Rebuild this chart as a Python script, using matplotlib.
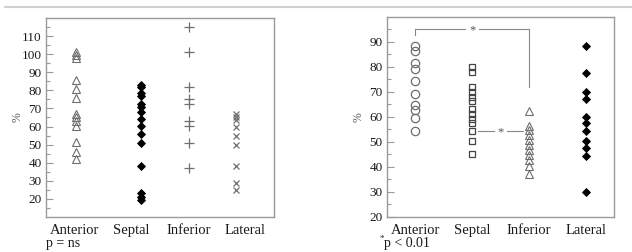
import matplotlib
matplotlib.use("Agg")
import matplotlib.pyplot as plt
from matplotlib.lines import Line2D
import numpy as np

plt.rcParams['font.family'] = ['Liberation Serif', 'DejaVu Serif']

categories = ["Anterior", "Septal", "Inferior", "Lateral"]

# Left panel (p = ns)
left_anterior = [101, 99.5, 98, 86, 81, 76, 67, 65, 63, 60.5, 51.5, 46, 42]
left_septal = [83, 81.7, 78.3, 77, 72.3, 71, 67.8, 64.2, 60.3, 55.7, 50.7, 38.2, 23, 21.3, 19.5]
left_inferior = [115, 101, 82, 75.2, 72.3, 63.2, 60.3, 50.7, 37]
left_lateral = [67, 65, 63.5, 60, 55, 50, 38, 29, 25]

# Right panel (*p < 0.01)
right_anterior = [88.5, 86.3, 81.6, 79.3, 74.3, 69.3, 64.9, 62.7, 59.6, 54.5]
right_septal = [80, 78, 72, 70, 68, 66.5, 63, 61, 59, 57.5, 54.5, 50.5, 45]
right_inferior = [62.5, 56.3, 54.9, 52.9, 50.9, 48.9, 46.9, 44.9, 42.9, 40.3, 37]
right_lateral = [88.5, 77.5, 70, 67, 60, 57.5, 54.5, 50.5, 47.5, 44.5, 30]

# significance brackets (right panel)
bracket_top = 95.2
bracket_top_drop = 72
bracket_low = 54.5

left_yticks = list(range(20, 111, 10))
right_yticks = list(range(20, 91, 10))

fig = plt.figure(figsize=(6.32, 2.52), dpi=100)
axL = fig.add_axes([0.0728, 0.1389, 0.3608, 0.7897])
axR = fig.add_axes([0.6123, 0.1389, 0.3592, 0.7937])

spine_col = "#9a9a9a"
mark_col = "#6e6e6e"

def style(ax, ylim, yticks):
    ax.set_xlim(0.5, 4.5)
    ax.set_ylim(*ylim)
    ax.set_yticks(yticks)
    ax.set_yticks(np.arange(ylim[0] + 5, ylim[1], 5), minor=True)
    ax.set_xticks([1, 2, 3, 4])
    ax.set_xticklabels(categories, fontsize=10.5, color="#1a1a1a")
    ax.tick_params(axis='x', length=0, pad=5)
    ax.tick_params(axis='y', which='both', direction='in', color=spine_col,
                   labelsize=9.5, labelcolor="#1a1a1a", width=0.8, pad=3)
    ax.tick_params(axis='y', which='major', length=5)
    ax.tick_params(axis='y', which='minor', length=3)
    for s in ax.spines.values():
        s.set_color(spine_col)
        s.set_linewidth(1.0)
    ax.set_ylabel("%", fontsize=8.5, color="#555555")
    ax.yaxis.set_label_coords(-0.1, 0.5)

style(axL, (10, 120), left_yticks)
style(axR, (20, 100), right_yticks)

# Left panel markers
xoff = [1.03, 2.17, 3.01, 3.84]
axL.plot([xoff[0]] * len(left_anterior), left_anterior, ls='none', marker='^',
         ms=6, mfc='none', mec=mark_col, mew=0.8)
axL.plot([xoff[1]] * len(left_septal), left_septal, ls='none', marker='D',
         ms=4.5, mfc='black', mec='black', mew=0.6)
axL.plot([xoff[2]] * len(left_inferior), left_inferior, ls='none', marker='+',
         ms=6.5, mec=mark_col, mew=0.9)
axL.plot([xoff[3]] * len(left_lateral), left_lateral, ls='none', marker='x',
         ms=4.2, mec=mark_col, mew=0.9)

# Right panel markers
axR.plot([1] * len(right_anterior), right_anterior, ls='none', marker='o',
         ms=6, mfc='none', mec=mark_col, mew=0.9)
axR.plot([2] * len(right_septal), right_septal, ls='none', marker='s',
         ms=4.8, mfc='none', mec="#444444", mew=0.9)
axR.plot([3] * len(right_inferior), right_inferior, ls='none', marker='^',
         ms=5.5, mfc='none', mec=mark_col, mew=0.8)
axR.plot([4] * len(right_lateral), right_lateral, ls='none', marker='D',
         ms=4.5, mfc='black', mec='black', mew=0.6)

# brackets
bcol = "#888888"
axR.plot([1, 1], [bracket_top - 2.6, bracket_top], color=bcol, lw=0.8)
axR.plot([1, 1.88], [bracket_top, bracket_top], color=bcol, lw=0.8)
axR.plot([2.12, 3], [bracket_top, bracket_top], color=bcol, lw=0.8)
axR.plot([3, 3], [bracket_top, bracket_top_drop], color=bcol, lw=0.8)
axR.text(2, bracket_top - 0.6, "*", ha='center', va='center', fontsize=9, color="#555555")
axR.plot([2.1, 2.38], [bracket_low, bracket_low], color=bcol, lw=0.8)
axR.plot([2.62, 2.9], [bracket_low, bracket_low], color=bcol, lw=0.8)
axR.text(2.5, bracket_low - 0.8, "*", ha='center', va='center', fontsize=9, color="#555555")

# footnotes
fig.text(46 / 632, 1 - 247 / 252, "p = ns", fontsize=10, color="#1a1a1a",
         ha='left', va='baseline')
fig.text(380 / 632, 1 - 241 / 252, "*", fontsize=6.5, color="#1a1a1a",
         ha='left', va='baseline')
fig.text(384 / 632, 1 - 247 / 252, "p < 0.01", fontsize=10, color="#1a1a1a",
         ha='left', va='baseline')

# top separator line
fig.add_artist(Line2D([5 / 632, 1.0], [1 - 7 / 252, 1 - 7 / 252],
                      color="#d0d0d0", lw=1.5, transform=fig.transFigure))

fig.savefig("out.png", dpi=100)
